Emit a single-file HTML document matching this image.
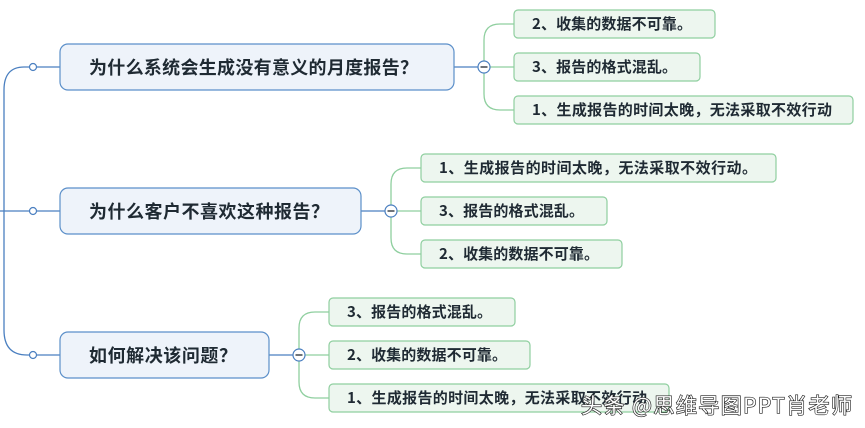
<!DOCTYPE html>
<html><head><meta charset="utf-8"><style>
body{margin:0;background:#fff;}
svg{display:block;}
.m{font-family:"Noto Sans CJK SC","Liberation Sans",sans-serif;font-weight:bold;font-size:18px;fill:#1f2a33;}
.c{font-family:"Noto Sans CJK SC","Liberation Sans",sans-serif;font-weight:bold;font-size:15px;fill:#1f2a33;}
.w{font-family:"Noto Sans CJK SC","Liberation Sans",sans-serif;font-size:21px;fill:#fff;stroke:#222;stroke-width:1.3px;paint-order:stroke;}
</style></head><body>
<svg width="865" height="428" viewBox="0 0 865 428" xmlns="http://www.w3.org/2000/svg">
<g fill="none" stroke="#4a7fc0" stroke-width="1.3">
<path d="M33 67 H24 Q4 67 4 90 V330 Q4 355 27 355 H33"/>
<path d="M0 211 H60"/>
<path d="M33 67 H60"/><path d="M33 355 H60"/>
<path d="M454 67 H484"/><path d="M361 211 H391"/><path d="M269 355 H299"/>
</g>
<g fill="#fff" stroke="#4a7fc0" stroke-width="1.2">
<circle cx="33" cy="67" r="3.5"/><circle cx="33" cy="211" r="3.5"/><circle cx="33" cy="355" r="3.5"/>
</g>
<g fill="none" stroke="#8fcf9f" stroke-width="1.3">
<path d="M514 24 H500 Q484 24 484 40 V94 Q484 110 500 110 H514"/><path d="M484 67 H514"/>
<path d="M421 168 H407 Q391 168 391 184 V238 Q391 254 407 254 H421"/><path d="M391 211 H421"/>
<path d="M329 312 H315 Q299 312 299 328 V382 Q299 398 315 398 H329"/><path d="M299 355 H329"/>
</g>
<g fill="#fff" stroke="#4a7fc0" stroke-width="1.2">
<circle cx="484" cy="67" r="6"/><circle cx="391" cy="211" r="6"/><circle cx="299" cy="355" r="6"/>
</g>
<g stroke="#1f2a33" stroke-width="1.3">
<path d="M480.5 67 H487.5"/><path d="M387.5 211 H394.5"/><path d="M295.5 355 H302.5"/>
</g>
<g fill="#eef3fa" stroke="#5b8fc9" stroke-width="1.2">
<rect x="60" y="44" width="394" height="46" rx="8"/>
<rect x="60" y="188" width="301" height="46" rx="8"/>
<rect x="60" y="332" width="209" height="46" rx="8"/>
</g>
<text class="m" x="89" y="74" textLength="329" lengthAdjust="spacing">为什么系统会生成没有意义的月度报告？</text>
<text class="m" x="89" y="218" textLength="240" lengthAdjust="spacing">为什么客户不喜欢这种报告？</text>
<text class="m" x="89" y="362" textLength="148" lengthAdjust="spacing">如何解决该问题？</text>
<g fill="#edf6ef" stroke="#8fcf9f" stroke-width="1.2">
<rect x="514" y="10" width="201" height="28" rx="4"/>
<rect x="514" y="53" width="186" height="28" rx="4"/>
<rect x="514" y="96" width="339" height="28" rx="4"/>
<rect x="421" y="154" width="355" height="28" rx="4"/>
<rect x="421" y="197" width="186" height="28" rx="4"/>
<rect x="421" y="240" width="201" height="28" rx="4"/>
<rect x="329" y="298" width="186" height="28" rx="4"/>
<rect x="329" y="341" width="201" height="28" rx="4"/>
<rect x="329" y="384" width="340" height="28" rx="4"/>
</g>
<text class="c" x="532" y="29" textLength="160" lengthAdjust="spacing">2、收集的数据不可靠。</text>
<text class="c" x="532" y="72" textLength="145" lengthAdjust="spacing">3、报告的格式混乱。</text>
<text class="c" x="532" y="115" textLength="300" lengthAdjust="spacing">1、生成报告的时间太晚，无法采取不效行动</text>
<text class="c" x="439" y="173" textLength="318" lengthAdjust="spacing">1、生成报告的时间太晚，无法采取不效行动。</text>
<text class="c" x="439" y="216" textLength="145" lengthAdjust="spacing">3、报告的格式混乱。</text>
<text class="c" x="439" y="259" textLength="160" lengthAdjust="spacing">2、收集的数据不可靠。</text>
<text class="c" x="347" y="317" textLength="145" lengthAdjust="spacing">3、报告的格式混乱。</text>
<text class="c" x="347" y="360" textLength="160" lengthAdjust="spacing">2、收集的数据不可靠。</text>
<text class="c" x="347" y="403" textLength="300" lengthAdjust="spacing">1、生成报告的时间太晚，无法采取不效行动</text>
<text class="w" x="581" y="413" textLength="271" lengthAdjust="spacing">头条 @思维导图PPT肖老师</text>
</svg>
</body></html>
